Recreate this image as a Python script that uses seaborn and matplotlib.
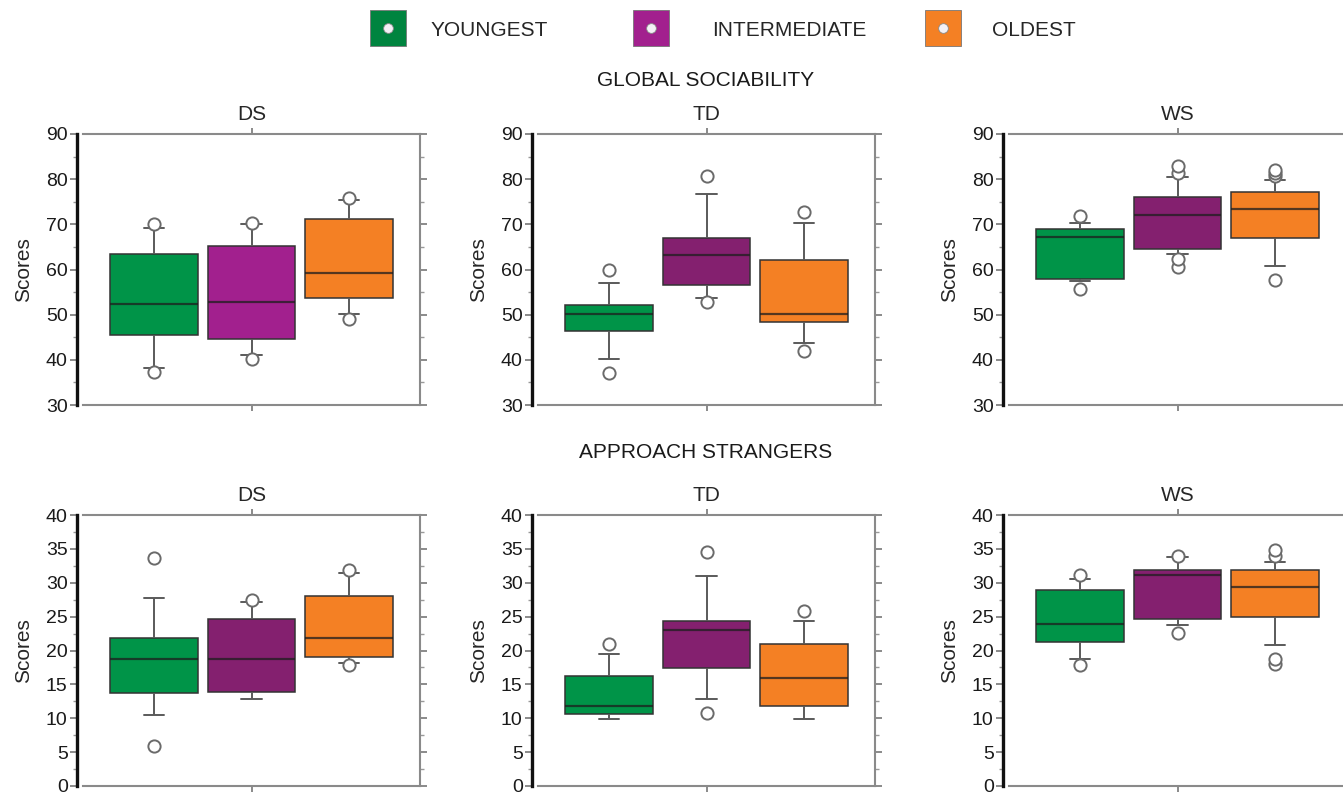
import pandas as pd
import seaborn as sns
import matplotlib.pyplot as plt
from matplotlib.lines import Line2D
from matplotlib.ticker import MultipleLocator

# Age groups and diagnostic panels
groups = ['YOUNGEST', 'INTERMEDIATE', 'OLDEST']
panels = ['DS', 'TD', 'WS']
colors = ['#009448', '#84206F', '#F48024']
colors_bright = ['#009448', '#A2208E', '#F48024']

# Box summaries: [whisker low, Q1, median, Q3, whisker high]
gs_ds = [[38.1, 45.5, 52.3, 63.4, 69.1], [41.1, 44.6, 52.9, 65.3, 70.1], [50.1, 53.8, 59.3, 71.1, 75.4]]
gs_td = [[40.1, 46.4, 50.2, 52.1, 57.1], [53.8, 56.6, 63.1, 67.0, 76.7], [43.8, 48.3, 50.2, 62.0, 70.4]]
gs_ws = [[57.5, 57.8, 67.2, 69.0, 70.4], [63.4, 64.5, 72.1, 76.1, 80.4], [60.8, 67.0, 73.5, 77.1, 79.9]]
as_ds = [[10.5, 13.8, 18.8, 21.9, 27.7], [12.8, 13.9, 18.8, 24.7, 27.2], [18.2, 19.1, 21.8, 28.1, 31.5]]
as_td = [[9.85, 10.7, 11.8, 16.2, 19.5], [12.9, 17.4, 23.0, 24.3, 31.0], [9.85, 11.8, 16.0, 20.9, 24.3]]
as_ws = [[18.8, 21.3, 23.9, 28.9, 30.5], [23.8, 24.7, 31.1, 31.9, 33.8], [20.8, 24.9, 29.3, 31.9, 33.1]]

# Outlying points (circles)
gs_ds_out = [[37.2, 70.0], [40.1, 70.4], [49.0, 75.9]]
gs_td_out = [[37.0, 59.8], [52.7, 80.7], [42.0, 72.8]]
gs_ws_out = [[55.6, 71.9], [60.5, 62.3, 81.3, 82.9], [57.7, 80.6, 81.3, 82.0]]
as_ds_out = [[5.9, 33.6], [27.5], [17.8, 31.9]]
as_td_out = [[20.9], [10.8, 34.6], [25.8]]
as_ws_out = [[17.8, 31.1], [22.6, 34.0], [18.0, 18.8, 34.0, 34.9]]


def observations(stats, outliers):
    # 41 values laid out so that the quartiles land on Q1/median/Q3 and the
    # 7.5th / 92.5th percentiles land on the whisker ends
    wlo, q1, med, q3, whi = stats
    low = sorted(v for v in outliers if v < wlo)
    high = sorted(v for v in outliers if v > whi)
    low = low + [wlo] * (3 - len(low))
    high = [whi] * (3 - len(high)) + high
    return low + [wlo] * 7 + [q1] * 10 + [med] + [q3] * 10 + [whi] * 7 + high


def frame(stats_list, out_list, measure):
    rows = []
    for panel, stats, outs in zip(panels, stats_list, out_list):
        for grp, st, ot in zip(groups, stats, outs):
            for v in observations(st, ot):
                rows.append({'Measure': measure, 'Panel': panel, 'Group': grp, 'Score': v})
    return pd.DataFrame(rows)


df = pd.concat([
    frame([gs_ds, gs_td, gs_ws], [gs_ds_out, gs_td_out, gs_ws_out], 'GLOBAL SOCIABILITY'),
    frame([as_ds, as_td, as_ws], [as_ds_out, as_td_out, as_ws_out], 'APPROACH STRANGERS'),
])

sns.set_theme(style='white')
plt.rcParams['font.family'] = ['Liberation Sans', 'DejaVu Sans']

W, H = 1343, 794
fig = plt.figure(figsize=(W / 100, H / 100), dpi=100)

lefts = [83, 538, 1009]
pw = 337
rows_px = [(134, 405), (515, 786)]
measures = ['GLOBAL SOCIABILITY', 'APPROACH STRANGERS']
ylims = [(30, 90), (0, 40)]
steps = [10, 5]
frame_col = '#8a8a8a'

for r, measure in enumerate(measures):
    top, bot = rows_px[r]
    for c, panel in enumerate(panels):
        ax = fig.add_axes([lefts[c] / W, (H - bot) / H, pw / W, (bot - top) / H])
        sub = df[(df['Measure'] == measure) & (df['Panel'] == panel)]
        pal = colors_bright if (r == 0 and c == 0) else colors
        sns.boxplot(data=sub, x='Panel', y='Score', hue='Group', hue_order=groups,
                    palette=pal, saturation=1, whis=(7.5, 92.5), width=0.8, gap=0.1,
                    linecolor='#333333', linewidth=1.1, legend=False, ax=ax,
                    capwidths=0.055,
                    medianprops={'color': '#1e1e1e', 'linewidth': 1.6, 'alpha': 0.75},
                    whiskerprops={'color': '#5a5a5a', 'linewidth': 1.4},
                    capprops={'color': '#5a5a5a', 'linewidth': 1.4},
                    flierprops={'marker': 'o', 'markersize': 8.8, 'markerfacecolor': 'white',
                                'markeredgecolor': '#6a6a6a', 'markeredgewidth': 1.4})
        ax.set_xlim(-0.46, 0.46)
        ax.set_ylim(*ylims[r])
        ax.yaxis.set_major_locator(MultipleLocator(steps[r]))
        ax.yaxis.set_minor_locator(MultipleLocator(steps[r] / 2))
        ax.set_xticks([0])
        ax.set_xticklabels([])
        ax.set_xlabel('')
        ax.set_ylabel('Scores', fontsize=15, labelpad=9)
        ax.set_title(panel, fontsize=15, pad=10)
        for side in ['top', 'bottom', 'right']:
            ax.spines[side].set_color(frame_col)
            ax.spines[side].set_linewidth(1.5)
        ax.spines['left'].set_color('#111111')
        ax.spines['left'].set_linewidth(2.4)
        ax.spines['left'].set_position(('outward', 4))
        ax.tick_params(axis='y', which='major', left=True, right=True, direction='out',
                       length=5, width=1.2, color='#777777', labelsize=14, pad=2,
                       labelcolor='#1a1a1a')
        ax.tick_params(axis='y', which='minor', left=True, right=True, direction='out',
                       length=3, width=1.0, color='#999999')
        ax.tick_params(axis='x', which='major', top=True, bottom=True, direction='out',
                       length=4, width=1.2, color='#777777')
        ax.grid(False)
    fig.text(706 / W, 1 - (80 if r == 0 else 453) / H, measure, ha='center', va='center',
             fontsize=15, color='#1a1a1a')

# Legend: green/purple/orange squares with a white dot
leg_x = [370, 633, 925]
leg_pad = [1.2, 2.1, 1.5]
leg_cols = ['#00843F', '#A2208E', '#F48024']
for x, pad, grp, col in zip(leg_x, leg_pad, groups, leg_cols):
    sq = Line2D([], [], marker='s', linestyle='none', markersize=26, markerfacecolor=col,
                markeredgecolor='#777777', markeredgewidth=0.6)
    dot = Line2D([], [], marker='o', linestyle='none', markersize=7, markerfacecolor='#f4f0f6',
                 markeredgecolor='#888888', markeredgewidth=0.6)
    fig.legend(handles=[(sq, dot)], labels=[grp], loc='center left',
               bbox_to_anchor=(x / W, 1 - 30 / H), frameon=False, borderpad=0,
               borderaxespad=0, handlelength=1.7, handletextpad=pad, fontsize=15)

fig.savefig('out.png', dpi=100)
